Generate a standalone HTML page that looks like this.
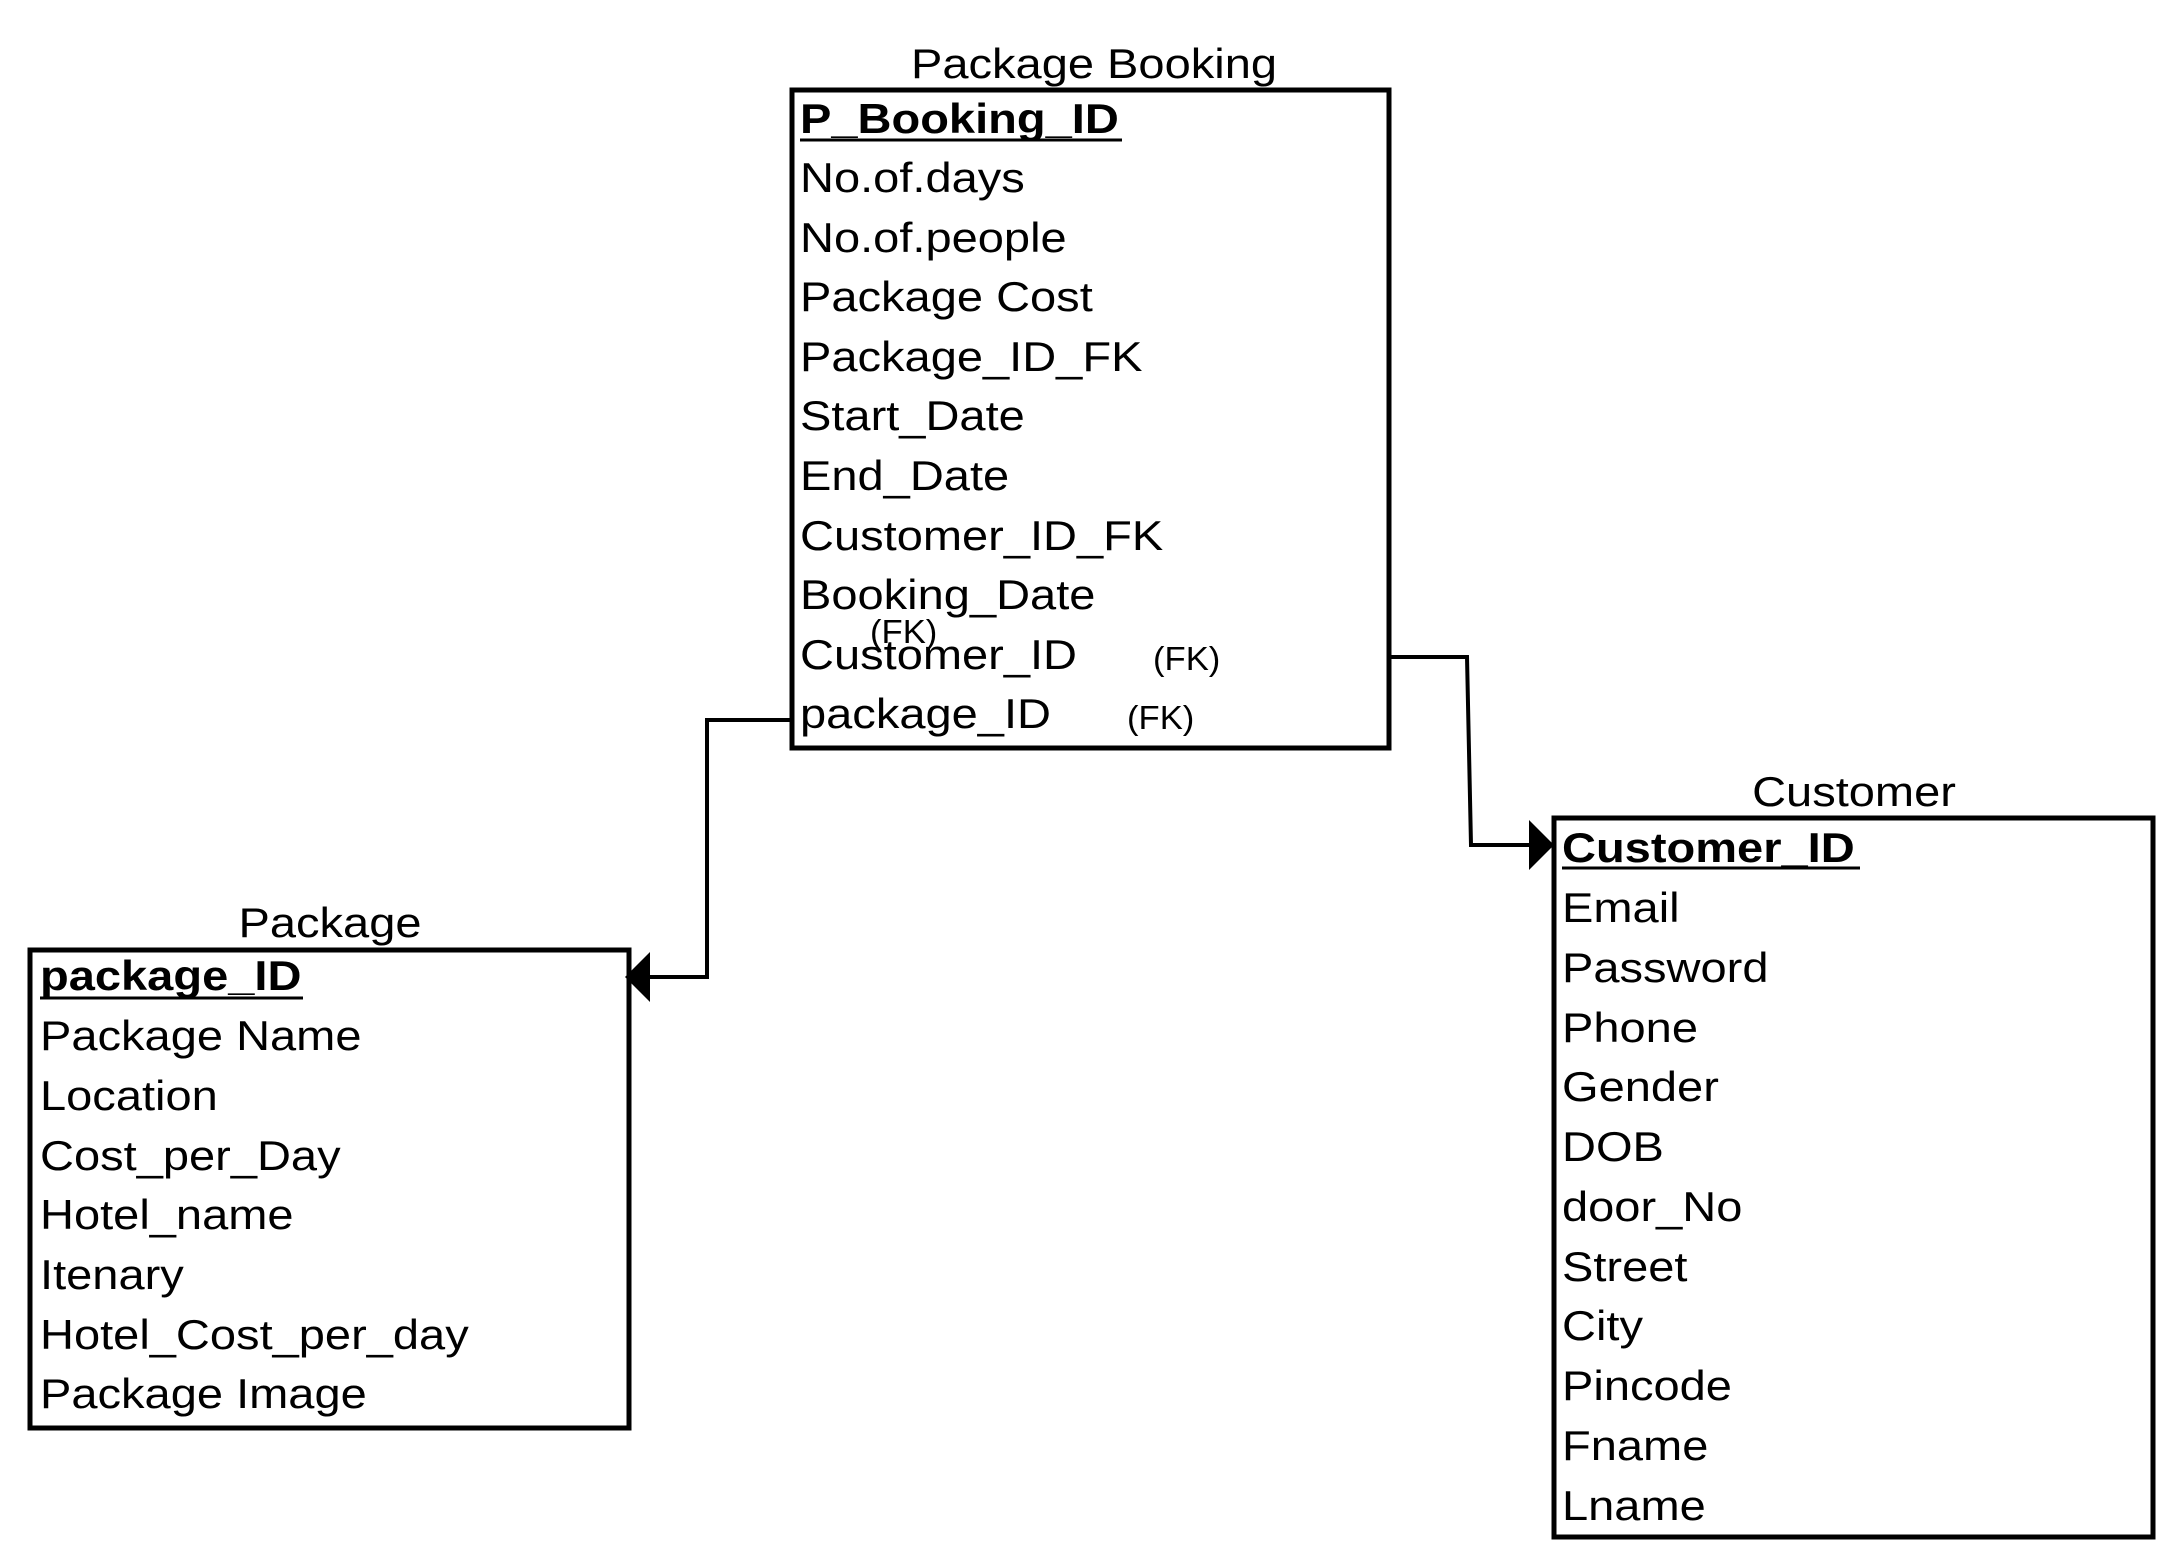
<!DOCTYPE html>
<html>
<head>
<meta charset="utf-8">
<style>
html,body{margin:0;padding:0;background:#fff;}
svg{display:block;}
text{font-family:"Liberation Sans",Arial,sans-serif;fill:#000;}
.r{font-size:42px;}
.b{font-size:42px;font-weight:bold;}
.t{font-size:42px;}
.fk{font-size:33px;}
</style>
</head>
<body>
<svg width="2180" height="1564" viewBox="0 0 2180 1564" xmlns="http://www.w3.org/2000/svg">
<rect width="2180" height="1564" fill="#fff"/>

<!-- Package Booking -->
<text class="t" text-anchor="middle" transform="translate(1094,78) scale(1.12,1)">Package Booking</text>
<rect x="792" y="90" width="597" height="658" fill="none" stroke="#000" stroke-width="5"/>
<text class="b" transform="translate(800,133) scale(1.12,1)">P_Booking_ID</text>
<line x1="800" y1="140" x2="1122" y2="140" stroke="#000" stroke-width="3"/>
<text class="r" transform="translate(800,192) scale(1.12,1)">No.of.days</text>
<text class="r" transform="translate(800,252) scale(1.12,1)">No.of.people</text>
<text class="r" transform="translate(800,311) scale(1.12,1)">Package Cost</text>
<text class="r" transform="translate(800,371) scale(1.12,1)">Package_ID_FK</text>
<text class="r" transform="translate(800,430) scale(1.12,1)">Start_Date</text>
<text class="r" transform="translate(800,490) scale(1.12,1)">End_Date</text>
<text class="r" transform="translate(800,550) scale(1.12,1)">Customer_ID_FK</text>
<text class="r" transform="translate(800,609) scale(1.12,1)">Booking_Date</text>
<text class="r" transform="translate(800,669) scale(1.12,1)">Customer_ID</text>
<text class="r" transform="translate(800,728) scale(1.12,1)">package_ID</text>
<text class="fk" transform="translate(870,643) scale(1.05,1)">(FK)</text>
<text class="fk" transform="translate(1153,670) scale(1.05,1)">(FK)</text>
<text class="fk" transform="translate(1127,729) scale(1.05,1)">(FK)</text>

<!-- Package -->
<text class="t" text-anchor="middle" transform="translate(330,937) scale(1.12,1)">Package</text>
<rect x="30" y="950" width="599" height="478" fill="none" stroke="#000" stroke-width="5"/>
<text class="b" transform="translate(40,990) scale(1.12,1)">package_ID</text>
<line x1="40" y1="998" x2="303" y2="998" stroke="#000" stroke-width="3"/>
<text class="r" transform="translate(40,1050) scale(1.12,1)">Package Name</text>
<text class="r" transform="translate(40,1110) scale(1.12,1)">Location</text>
<text class="r" transform="translate(40,1170) scale(1.12,1)">Cost_per_Day</text>
<text class="r" transform="translate(40,1229) scale(1.12,1)">Hotel_name</text>
<text class="r" transform="translate(40,1289) scale(1.12,1)">Itenary</text>
<text class="r" transform="translate(40,1349) scale(1.12,1)">Hotel_Cost_per_day</text>
<text class="r" transform="translate(40,1408) scale(1.12,1)">Package Image</text>

<!-- Customer -->
<text class="t" text-anchor="middle" transform="translate(1854,806) scale(1.12,1)">Customer</text>
<rect x="1554" y="818" width="599" height="719" fill="none" stroke="#000" stroke-width="5"/>
<text class="b" transform="translate(1562,862) scale(1.12,1)">Customer_ID</text>
<line x1="1562" y1="868" x2="1860" y2="868" stroke="#000" stroke-width="3"/>
<text class="r" transform="translate(1562,922) scale(1.12,1)">Email</text>
<text class="r" transform="translate(1562,982) scale(1.12,1)">Password</text>
<text class="r" transform="translate(1562,1042) scale(1.12,1)">Phone</text>
<text class="r" transform="translate(1562,1101) scale(1.12,1)">Gender</text>
<text class="r" transform="translate(1562,1161) scale(1.12,1)">DOB</text>
<text class="r" transform="translate(1562,1221) scale(1.12,1)">door_No</text>
<text class="r" transform="translate(1562,1281) scale(1.12,1)">Street</text>
<text class="r" transform="translate(1562,1340) scale(1.12,1)">City</text>
<text class="r" transform="translate(1562,1400) scale(1.12,1)">Pincode</text>
<text class="r" transform="translate(1562,1460) scale(1.12,1)">Fname</text>
<text class="r" transform="translate(1562,1520) scale(1.12,1)">Lname</text>

<!-- Connectors -->
<polyline points="1389,657 1467,657 1471,845 1532,845" fill="none" stroke="#000" stroke-width="4"/>
<polygon points="1529,820 1554,845 1529,870" fill="#000"/>
<polyline points="790,720 707,720 707,977 647,977" fill="none" stroke="#000" stroke-width="4"/>
<polygon points="650,952 625,977 650,1002" fill="#000"/>
</svg>
</body>
</html>
